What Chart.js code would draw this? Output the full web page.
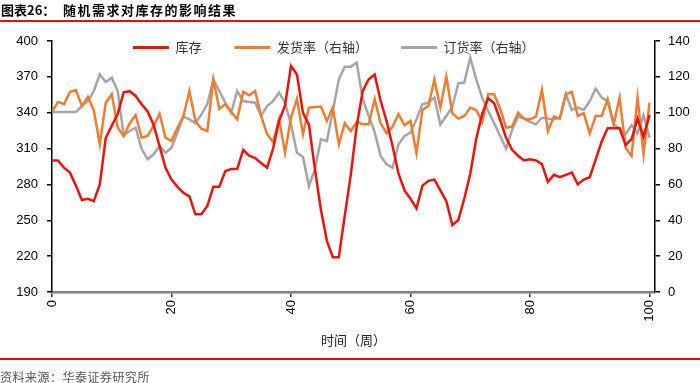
<!DOCTYPE html>
<html>
<head>
<meta charset="utf-8">
<script src="https://cdn.jsdelivr.net/npm/chart.js@4.4.0/dist/chart.umd.min.js"></script>
<style>
html,body{margin:0;padding:0;background:#fff;}
#wrap{position:relative;width:700px;height:383px;overflow:hidden;background:#fff;}
#c{position:absolute;left:0;top:0;}
.tt{position:absolute;top:2px;font-family:"Noto Sans CJK SC";font-weight:bold;font-size:13px;line-height:16px;color:#000;white-space:nowrap;}
#t1{left:1px;}
#t2{left:63px;letter-spacing:1.5px;}
.rl{position:absolute;left:0;width:700px;background:#e3100c;}
#foot{position:absolute;left:0;top:369px;font-family:"Noto Sans CJK SC";font-size:12px;line-height:16px;color:#555;letter-spacing:0.5px;white-space:nowrap;}
</style>
</head>
<body>
<div id="wrap">
  <canvas id="c" width="700" height="383"></canvas>
  <div class="tt" id="t1">图表26：</div>
  <div class="tt" id="t2">随机需求对库存的影响结果</div>
  <div class="rl" style="top:20px;height:2px;"></div>
  <div class="rl" style="top:358px;height:1.5px;"></div>
  <div id="foot">资料来源：华泰证券研究所</div>
</div>
<script>
const weeks = [0,1,2,3,4,5,6,7,8,9,10,11,12,13,14,15,16,17,18,19,20,21,22,23,24,25,26,27,28,29,30,31,32,33,34,35,36,37,38,39,40,41,42,43,44,45,46,47,48,49,50,51,52,53,54,55,56,57,58,59,60,61,62,63,64,65,66,67,68,69,70,71,72,73,74,75,76,77,78,79,80,81,82,83,84,85,86,87,88,89,90,91,92,93,94,95,96,97,98,99,100];

const inventory = [300,300,294,290,279,267,268,266,280,319,329,339,357,358,354,347,341,330,312,294,284,278,273,270,255,255,262,278,278,291,293,293,309,304,302,298,294,310,333,346,379,372,340,330,293,259,233,219,219,254,288,329,358,368,372,350,333,312,289,275,268,260,279,283,284,275,266,246,250,268,289,318,339,352,348,334,319,309,304,300,301,300,297,282,288,286,288,290,280,284,286,301,316,327,327,327,313,318,335,320,338];

const shipRate = [100.4,106,104.7,111.6,112.5,103.7,108.8,101.5,82.4,105.6,110.3,91.6,87,94,98.7,86.1,87,92.6,99.4,86.1,84.2,91.6,98.2,112.1,95.4,91.1,89.8,118.6,102.2,104.7,100.4,96.3,111.6,109.7,112.1,98.2,88,83.7,96.3,77.7,97.2,107.8,88,102.8,103.2,103.4,95.4,102.8,82.4,94.1,89.8,94.8,93.5,93.5,107.5,94.1,88.5,92.2,99.1,93,95.4,77.4,101.5,103.7,118.6,102.8,120.1,99.7,96.7,98.2,102.8,101.5,94.8,110.3,110.3,102.2,91.6,92.2,100,96.7,96.3,97.8,112.7,89.8,97.8,96.7,110.3,111.6,98.2,99.7,88.5,98.2,98.2,107.5,93.5,108.4,80.5,75.9,108.4,76.8,105.6];

const orderRate = [100.4,100.4,100.4,100.4,100.4,103.7,106.5,112.1,121.4,117.1,119.5,112.1,87.4,89.8,91.6,79.9,74,76.8,81.4,77.7,80.5,88.9,97.8,96.3,94.1,99.1,104.7,118.6,112.1,105.6,100,112.1,106.5,106,105.6,98.2,103.7,106.5,111.2,105.6,93.5,77.7,75.5,59.1,68.4,85.2,84.2,101,118.6,125.7,125.7,127.9,107.5,98.2,89.2,75.9,71.2,69.3,82.4,87,88.9,96.3,104.7,105.6,108.4,93.5,98.2,103.2,116.4,116.8,130.7,118.6,108.4,101,94.1,87,79.9,90.4,97.8,96.7,94.8,93.5,97.2,96.7,96.3,97.2,110.3,101.5,102.8,101.5,106.5,113.4,108.4,106.5,93.5,91.1,88,93,88.5,98.5,86.1];

const seriesNames = ['库存', '发货率（右轴）', '订货率（右轴）'];
const xTicks = [0, 20, 40, 60, 80, 100];
const leftTicks = [190, 220, 250, 280, 310, 340, 370, 400];
const rightTicks = [0, 20, 40, 60, 80, 100, 120, 140];
const xTitle = '时间（周）';

const toXY = arr => weeks.map((w, i) => ({x: w, y: arr[i]}));

const legendShift = {
  id: 'legendShift',
  afterLayout(chart) {
    const lg = chart.legend;
    if (!lg || !lg.lineWidths) return;
    const p = lg.options.labels.padding;
    const x0 = (lg.left + p + lg.right - lg.lineWidths[0]) / 2;
    const dx = 133 - x0;
    lg.left += dx; lg.right += dx;
    lg.top = 8;
    lg.bottom = 80;
    lg.height = lg.bottom - lg.top;
  }
};

const tickFont = {family: '"Liberation Sans", Arial, sans-serif', size: 13};

new Chart(document.getElementById('c'), {
  type: 'line',
  data: {
    datasets: [
      {label: seriesNames[0], data: toXY(inventory), yAxisID: 'y', borderColor: '#e8140e', backgroundColor: '#e8140e', borderWidth: 2.5, pointRadius: 0, tension: 0, fill: false},
      {label: seriesNames[1], data: toXY(shipRate), yAxisID: 'y1', borderColor: '#ed7d31', backgroundColor: '#ed7d31', borderWidth: 2.5, pointRadius: 0, tension: 0, fill: false},
      {label: seriesNames[2], data: toXY(orderRate), yAxisID: 'y1', borderColor: '#a5a5a5', backgroundColor: '#a5a5a5', borderWidth: 2.5, pointRadius: 0, tension: 0, fill: false}
    ]
  },
  options: {
    responsive: false,
    animation: false,
    devicePixelRatio: 1,
    layout: {padding: {top: 21, left: 0, right: 0, bottom: 0}},
    plugins: {
      tooltip: {enabled: false},
      legend: {
        position: 'top',
        maxHeight: 20,
        labels: {
          boxWidth: 36,
          boxHeight: 3,
          padding: 33,
          color: '#333',
          font: {family: '"Noto Sans CJK SC"', size: 13},
          generateLabels(chart) {
            const items = Chart.defaults.plugins.legend.labels.generateLabels(chart);
            items.forEach(it => { it.lineWidth = 0; it.fillStyle = it.strokeStyle; });
            return items;
          }
        }
      }
    },
    scales: {
      x: {
        type: 'linear',
        min: 0,
        max: 100.92,
        afterBuildTicks: s => { s.ticks = xTicks.map(v => ({value: v})); },
        afterFit: s => { s.height = 91; },
        ticks: {autoSkip: false, minRotation: 90, maxRotation: 90, padding: 3, color: '#000', font: tickFont},
        grid: {drawOnChartArea: false, drawTicks: true, tickLength: 5, color: '#333', lineWidth: 1.5},
        border: {display: true, color: '#808080', width: 2.5},
        title: {display: true, text: xTitle, color: '#222', font: {family: '"Noto Sans CJK SC"', size: 13}, padding: {top: 4, bottom: 35}}
      },
      y: {
        position: 'left',
        min: 190,
        max: 400,
        afterBuildTicks: s => { s.ticks = leftTicks.map(v => ({value: v})); },
        afterFit: s => { s.width = 52; },
        ticks: {padding: 9, color: '#000', font: tickFont},
        grid: {drawOnChartArea: false, drawTicks: true, tickLength: 5, color: '#000', lineWidth: 1.5},
        border: {display: true, color: '#000', width: 1.5}
      },
      y1: {
        position: 'right',
        min: 0,
        max: 140,
        afterBuildTicks: s => { s.ticks = rightTicks.map(v => ({value: v})); },
        afterFit: s => { s.width = 45; },
        ticks: {padding: 8, color: '#000', font: tickFont},
        grid: {drawOnChartArea: false, drawTicks: true, tickLength: 5, color: '#000', lineWidth: 1.5},
        border: {display: true, color: '#000', width: 1.5}
      }
    }
  },
  plugins: [legendShift]
});
</script>
</body>
</html>
